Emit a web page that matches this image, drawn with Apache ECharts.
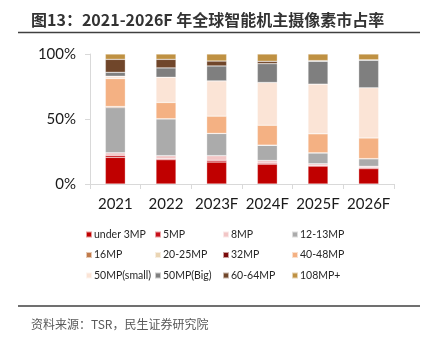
<!DOCTYPE html>
<html>
<head>
<meta charset="utf-8">
<script src="https://cdn.jsdelivr.net/npm/echarts@6/dist/echarts.min.js"></script>
<style>html,body{margin:0;padding:0;background:#fff;}#c{width:421px;height:337px;}</style>
</head>
<body>
<div id="c"></div>
<script>
var categories = ['2021', '2022', '2023F', '2024F', '2025F', '2026F'];
var seriesNames = ['under 3MP', '5MP', '8MP', '12-13MP', '16MP', '20-25MP', '32MP', '40-48MP', '50MP(small)', '50MP(Big)', '60-64MP', '108MP+'];
var under3MP   = [20.5, 18.7, 16.9, 15.3, 13.8, 11.8];
var mp5        = [1.5, 0.8, 1.3, 0.8, 0.5, 0.8];
var mp8        = [2.0, 2.3, 3.6, 2.0, 1.3, 1.0];
var mp12_13    = [34.8, 28.4, 17.1, 11.8, 8.4, 5.9];
var mp16       = [0.8, 0, 0, 0, 0, 0];
var mp20_25    = [0, 0, 0, 0, 0, 0];
var mp32       = [0, 0, 0, 0, 0, 0];
var mp40_48    = [21.5, 12.5, 13.3, 15.3, 14.6, 15.9];
var mp50small  = [1.8, 19.4, 27.1, 32.9, 38.2, 38.6];
var mp50big    = [3.0, 7.2, 11.5, 14.5, 17.6, 21.2];
var mp60_64    = [10.0, 6.6, 3.8, 1.8, 0.5, 0.3];
var mp108      = [4.1, 4.1, 5.4, 5.6, 5.1, 4.5];
var yTicks = [0, 50, 100];

var seriesData = [under3MP, mp5, mp8, mp12_13, mp16, mp20_25, mp32, mp40_48, mp50small, mp50big, mp60_64, mp108];
var colors = ['#C00000', '#C8101A', '#F2C6C6', '#ABABAB', '#C07A4A', '#EAD5B4', '#7A0A0A', '#F4B183', '#FBE4D6', '#7F7F7F', '#70462A', '#BF9142'];

var chart = echarts.init(document.getElementById('c'));
var font = '"Noto Sans CJK SC", "Noto Sans", sans-serif';
var latin = 'Lato, "Noto Sans", sans-serif';

var cols = [[0, 4, 8], [1, 5, 9], [2, 6, 10], [3, 7, 11]];
var colX = [85, 154, 222, 291];
var legends = cols.map(function (idx, i) {
  return {
    orient: 'vertical',
    left: colX[i],
    top: 229,
    itemWidth: 6,
    itemHeight: 6,
    itemGap: 9.5,
    icon: 'rect',
    textStyle: { fontSize: 10.5, color: '#262626', fontFamily: latin, padding: [0, 0, 0, -3] },
    padding: 0,
    data: idx.map(function (k) { return seriesNames[k]; })
  };
});

var option = {
  animation: false,
  backgroundColor: '#fff',
  textStyle: { fontFamily: font },
  title: [
    { text: '图13：2021-2026F 年全球智能机主摄像素市占率', left: 26, top: 7,
      textStyle: { fontSize: 16, fontWeight: 'bold', color: '#333', fontFamily: font } },
    { text: '资料来源：TSR，民生证券研究院', left: 26, top: 313,
      textStyle: { fontSize: 12, fontWeight: 'normal', color: '#595959', fontFamily: font } }
  ],
  graphic: [
    { type: 'line', shape: { x1: 18, y1: 32.5, x2: 420, y2: 32.5 }, style: { stroke: '#404040', lineWidth: 1.5 } },
    { type: 'line', shape: { x1: 18, y1: 306, x2: 420, y2: 306 }, style: { stroke: '#404040', lineWidth: 1.5 } }
  ],
  legend: legends,
  grid: { left: 90, right: 27, top: 54, height: 130, containLabel: false },
  xAxis: {
    type: 'category',
    data: categories,
    axisLine: { lineStyle: { color: '#D9D9D9' } },
    axisTick: { show: true, length: 5, lineStyle: { color: '#D9D9D9' } },
    axisLabel: { interval: 0, fontSize: 15, color: '#1a1a1a', margin: 13, fontFamily: latin }
  },
  yAxis: {
    type: 'value',
    min: 0, max: 100, interval: 50,
    axisLine: { show: true, lineStyle: { color: '#D9D9D9' } },
    axisTick: { show: true, length: 5, lineStyle: { color: '#D9D9D9' } },
    splitLine: { show: false },
    axisLabel: { fontSize: 15, color: '#1a1a1a', margin: 14, fontFamily: latin,
      formatter: function (v) { return yTicks.indexOf(v) >= 0 ? v + '%' : ''; } }
  },
  series: seriesNames.map(function (n, i) {
    return {
      name: n,
      type: 'bar',
      stack: 'total',
      barWidth: 20,
      data: seriesData[i],
      itemStyle: { color: colors[i], borderColor: 'rgba(255,255,255,0.6)', borderWidth: 0.5 }
    };
  })
};
chart.setOption(option);
</script>
</body>
</html>
